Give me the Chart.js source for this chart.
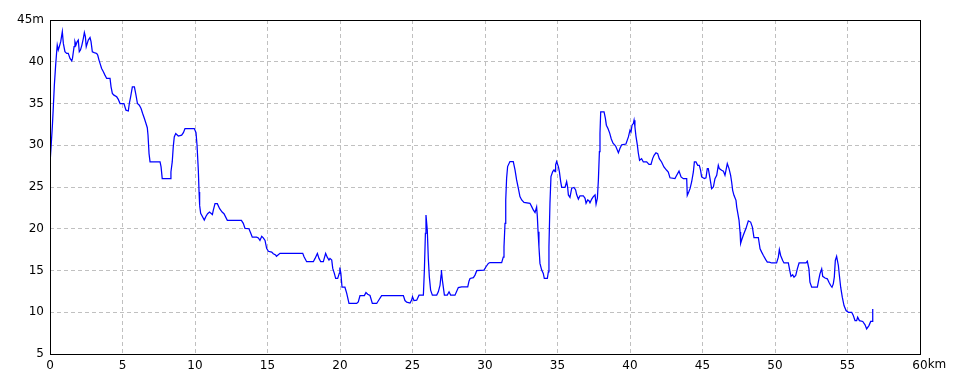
<!DOCTYPE html>
<html>
<head>
<meta charset="utf-8">
<script src="https://cdn.jsdelivr.net/npm/chart.js@4/dist/chart.umd.min.js"></script>
<style>
    html, body { margin: 0; padding: 0; background: #fff; }
    #wrap { width: 960px; height: 384px; }
</style>
</head>
<body>
<div id="wrap"><canvas id="elevationChart" width="960" height="384"></canvas></div>
<script>
// Elevation profile data (distance in km, elevation in m)
const distanceKm = [
    0.00, 0.03, 0.16, 0.23, 0.30, 0.39, 0.46, 0.50, 0.57, 0.64, 0.74, 0.85, 0.92, 1.03, 1.15, 1.26, 1.38, 1.50, 1.55, 1.66,
    1.72, 1.79, 1.87, 1.95, 2.02, 2.10, 2.20, 2.30, 2.37, 2.44, 2.50, 2.57, 2.64, 2.76, 2.83, 2.92, 3.05, 3.22, 3.29, 3.38,
    3.45, 3.56, 3.68, 3.79, 3.91, 4.14, 4.21, 4.30, 4.41, 4.60, 4.71, 4.83, 5.10, 5.24, 5.40, 5.47, 5.56, 5.68, 5.82, 5.93,
    6.03, 6.16, 6.28, 6.39, 6.51, 6.62, 6.71, 6.76, 6.83, 6.90, 7.59, 7.66, 7.74, 8.28, 8.34, 8.43, 8.50, 8.57, 8.67, 8.85,
    9.08, 9.20, 9.31, 9.95, 10.07, 10.14, 10.23, 10.28, 10.32, 10.39, 10.50, 10.64, 10.76, 10.87, 11.00, 11.20, 11.26, 11.38, 11.54, 11.70,
    11.87, 12.00, 12.23, 13.20, 13.33, 13.45, 13.72, 13.84, 13.95, 14.25, 14.37, 14.48, 14.60, 14.71, 14.83, 14.94, 15.06, 15.29, 15.40, 15.56,
    15.62, 15.86, 17.43, 17.52, 17.70, 18.16, 18.28, 18.44, 18.55, 18.67, 18.85, 19.01, 19.12, 19.24, 19.31, 19.43, 19.50, 19.61, 19.70, 19.84,
    19.95, 19.99, 20.06, 20.14, 20.34, 20.46, 20.62, 21.15, 21.26, 21.38, 21.68, 21.79, 21.91, 22.07, 22.23, 22.53, 22.69, 22.87, 24.37, 24.48,
    24.60, 24.83, 24.94, 25.00, 25.10, 25.29, 25.45, 25.75, 25.82, 25.89, 25.93, 26.02, 26.09, 26.16, 26.25, 26.37, 26.67, 26.78, 26.90, 26.97,
    26.99, 27.06, 27.20, 27.40, 27.52, 27.63, 27.93, 28.16, 28.39, 28.81, 28.90, 28.97, 29.20, 29.31, 29.43, 29.93, 30.07, 30.23, 30.34, 31.15,
    31.26, 31.31, 31.38, 31.43, 31.49, 31.56, 31.72, 31.95, 32.07, 32.18, 32.30, 32.41, 32.53, 32.69, 33.10, 33.22, 33.33, 33.45, 33.56, 33.61,
    33.66, 33.72, 33.79, 33.91, 34.02, 34.09, 34.30, 34.37, 34.41, 34.48, 34.55, 34.67, 34.76, 34.83, 34.87, 34.94, 35.06, 35.13, 35.22, 35.29,
    35.52, 35.63, 35.70, 35.75, 35.86, 35.98, 36.14, 36.25, 36.32, 36.44, 36.55, 36.78, 36.90, 36.97, 37.08, 37.17, 37.24, 37.36, 37.47, 37.59,
    37.66, 37.75, 37.82, 37.89, 37.93, 37.98, 38.21, 38.30, 38.37, 38.48, 38.60, 38.71, 38.83, 39.01, 39.20, 39.31, 39.43, 39.72, 39.89, 40.00,
    40.07, 40.14, 40.23, 40.28, 40.34, 40.41, 40.50, 40.57, 40.66, 40.80, 40.92, 41.15, 41.31, 41.45, 41.56, 41.66, 41.79, 41.91, 42.02, 42.18,
    42.34, 42.53, 42.64, 42.76, 43.10, 43.22, 43.38, 43.52, 43.68, 43.91, 43.95, 44.05, 44.14, 44.25, 44.37, 44.44, 44.55, 44.67, 44.78, 44.87,
    44.94, 45.13, 45.24, 45.33, 45.40, 45.52, 45.63, 45.75, 45.86, 45.98, 46.09, 46.16, 46.32, 46.44, 46.55, 46.71, 46.83, 46.94, 47.01, 47.08,
    47.17, 47.31, 47.36, 47.43, 47.52, 47.59, 47.63, 47.70, 47.82, 48.00, 48.16, 48.32, 48.44, 48.55, 48.85, 48.97, 49.08, 49.20, 49.36, 49.47,
    49.61, 49.77, 50.11, 50.23, 50.30, 50.39, 50.53, 50.62, 50.92, 51.03, 51.10, 51.22, 51.31, 51.43, 51.54, 51.66, 52.14, 52.23, 52.34, 52.41,
    52.53, 52.92, 53.03, 53.10, 53.22, 53.29, 53.45, 53.61, 53.72, 53.84, 53.93, 54.02, 54.09, 54.16, 54.25, 54.37, 54.44, 54.53, 54.64, 54.76,
    54.90, 55.06, 55.29, 55.40, 55.52, 55.63, 55.70, 55.82, 56.05, 56.21, 56.32, 56.48, 56.60, 56.69, 56.74
];
const elevationM = [
    29.8, 28.6, 32.2, 34.6, 37.2, 39.6, 41.2, 42.0, 41.4, 41.8, 42.4, 43.6, 42.2, 41.2, 41.0, 41.0, 40.4, 40.1, 40.4, 41.8,
    42.4, 42.0, 42.4, 42.6, 41.2, 41.4, 42.0, 42.8, 43.5, 43.0, 41.8, 42.2, 42.6, 42.9, 42.4, 41.2, 41.1, 41.0, 40.8, 40.2,
    39.8, 39.2, 38.8, 38.4, 38.0, 38.0, 37.0, 36.2, 36.0, 35.8, 35.5, 35.0, 35.0, 34.2, 34.1, 35.0, 35.8, 37.0, 37.0, 36.0,
    35.0, 34.8, 34.4, 33.8, 33.2, 32.6, 32.1, 31.2, 29.0, 28.0, 28.0, 27.4, 26.0, 26.0, 26.8, 28.0, 29.8, 31.0, 31.4, 31.1,
    31.2, 31.5, 32.0, 32.0, 31.5, 30.0, 27.0, 24.4, 22.8, 21.85, 21.5, 21.05, 21.5, 21.8, 22.0, 21.7, 22.2, 23.0, 23.0, 22.4,
    22.0, 21.8, 21.0, 21.0, 20.65, 20.05, 20.0, 19.5, 19.0, 19.0, 18.9, 18.6, 19.1, 18.9, 18.6, 17.65, 17.3, 17.2, 17.0, 16.85,
    16.7, 17.05, 17.05, 16.65, 16.05, 16.05, 16.45, 17.05, 16.45, 16.05, 16.05, 17.05, 16.6, 16.25, 16.45, 16.25, 15.25, 14.65, 14.05, 14.05,
    14.65, 15.35, 14.65, 13.0, 13.0, 12.3, 11.05, 11.05, 11.25, 12.0, 12.0, 12.35, 12.15, 12.0, 11.05, 11.05, 11.5, 12.0, 12.0, 11.4,
    11.2, 11.1, 11.45, 11.85, 11.4, 11.45, 12.05, 12.05, 15.05, 19.45, 21.65, 19.85, 16.45, 14.25, 12.65, 12.05, 12.05, 12.45, 13.25, 14.45,
    15.05, 13.85, 12.05, 12.05, 12.45, 12.05, 12.05, 12.95, 13.05, 13.05, 13.75, 14.05, 14.15, 14.45, 14.98, 15.05, 15.45, 15.85, 15.95, 15.95,
    16.6, 17.85, 20.65, 23.45, 26.05, 27.45, 28.05, 28.05, 27.05, 25.85, 24.85, 23.85, 23.45, 23.15, 23.05, 22.65, 22.25, 21.95, 22.6, 21.45,
    19.65, 17.85, 15.85, 15.05, 14.65, 14.05, 14.05, 14.85, 17.85, 23.05, 26.25, 26.85, 27.05, 26.85, 27.65, 28.05, 27.45, 26.85, 25.65, 24.95,
    24.95, 25.65, 24.95, 24.05, 23.75, 24.85, 24.95, 24.65, 24.1, 23.55, 23.95, 23.95, 23.65, 23.05, 23.45, 23.35, 23.1, 23.55, 23.85, 24.05,
    22.95, 23.65, 25.85, 29.25, 31.45, 34.0, 34.0, 33.25, 32.4, 32.0, 31.45, 30.75, 30.25, 29.9, 29.1, 29.65, 30.05, 30.15, 31.0, 31.8,
    31.6, 32.4, 32.6, 33.0, 32.2, 31.1, 30.1, 29.1, 28.2, 28.4, 28.0, 28.0, 27.7, 27.7, 28.4, 28.8, 29.1, 29.0, 28.4, 28.0,
    27.4, 27.0, 26.8, 26.1, 26.0, 26.4, 26.9, 26.2, 26.0, 26.0, 24.0, 24.4, 24.8, 25.6, 26.8, 28.0, 28.0, 27.6, 27.6, 27.0,
    26.2, 26.0, 26.1, 27.2, 27.2, 26.0, 24.8, 25.0, 26.0, 26.4, 27.6, 27.2, 27.0, 26.9, 26.4, 27.8, 27.2, 26.4, 25.6, 24.6,
    24.0, 23.4, 22.6, 21.9, 21.0, 19.6, 18.25, 18.65, 19.25, 20.05, 20.95, 20.8, 20.2, 18.95, 18.95, 17.6, 17.2, 16.8, 16.3, 16.0,
    16.0, 15.9, 15.9, 16.6, 17.5, 16.8, 16.2, 15.9, 15.9, 14.9, 14.3, 14.5, 14.2, 14.4, 15.2, 15.9, 15.9, 16.1, 15.2, 13.6,
    13.0, 13.0, 14.0, 14.6, 15.2, 14.3, 14.1, 14.0, 13.6, 13.2, 13.0, 13.4, 14.2, 16.2, 16.7, 15.6, 14.4, 13.0, 11.8, 10.8,
    10.2, 10.0, 10.0, 9.6, 9.0, 9.0, 9.4, 9.0, 8.9, 8.5, 8.0, 8.4, 8.9, 8.9, 10.4
];

// Axis ranges and tick steps
const xMin = 0, xMax = 60, xStep = 5, xUnit = 'km';
const yMin = 5, yMax = 45, yStep = 5, yUnit = 'm';

const points = distanceKm.map((d, i) => ({ x: d, y: elevationM[i] }));

// Draws the black frame round the plot and the "km" suffix after the last x label
const framePlugin = {
    id: 'frame',
    afterDraw(chart) {
        const ctx = chart.ctx;
        const a = chart.chartArea;
        ctx.save();
        ctx.strokeStyle = '#000';
        ctx.lineWidth = 1;
        ctx.strokeRect(Math.round(a.left) + 0.5, Math.round(a.top) + 0.5,
            Math.round(a.right - a.left), Math.round(a.bottom - a.top));

        ctx.font = '12px "DejaVu Sans"';
        ctx.fillStyle = '#000';
        ctx.textBaseline = 'middle';
        const label = String(xMax);
        const w = ctx.measureText(label).width;
        const xPos = chart.scales.x.getPixelForValue(xMax);
        ctx.textAlign = 'left';
        ctx.fillText(xUnit, xPos + w / 2, a.bottom + 11);
        ctx.restore();
    }
};

const ctx = document.getElementById('elevationChart').getContext('2d');
const elevationChart = new Chart(ctx, {
    type: 'line',
    data: {
        datasets: [{
            data: points,
            borderColor: '#0000ff',
            borderWidth: 1.25,
            pointRadius: 0,
            fill: false,
            tension: 0
        }]
    },
    options: {
        responsive: false,
        animation: false,
        layout: {
            padding: { top: 20, right: 40, left: 0, bottom: 0 }
        },
        plugins: {
            legend: { display: false },
            tooltip: { enabled: false }
        },
        scales: {
            x: {
                type: 'linear',
                min: xMin,
                max: xMax,
                afterFit: function(scale) { scale.height = 30; },
                grid: {
                    color: '#c0c0c0',
                    lineWidth: 1,
                    drawTicks: false
                },
                border: { display: false, dash: [4, 3] },
                ticks: {
                    stepSize: xStep,
                    color: '#000',
                    padding: 5,
                    maxRotation: 0,
                    font: { family: 'DejaVu Sans', size: 12 }
                }
            },
            y: {
                min: yMin,
                max: yMax,
                afterFit: function(scale) { scale.width = 50; },
                grid: {
                    color: '#c0c0c0',
                    lineWidth: 1,
                    drawTicks: false
                },
                border: { display: false, dash: [4, 3] },
                ticks: {
                    stepSize: yStep,
                    color: '#000',
                    padding: 6,
                    font: { family: 'DejaVu Sans', size: 12 },
                    callback: function(value) {
                        return value === yMax ? value + yUnit : value;
                    }
                }
            }
        }
    },
    plugins: [framePlugin]
});
</script>
</body>
</html>
